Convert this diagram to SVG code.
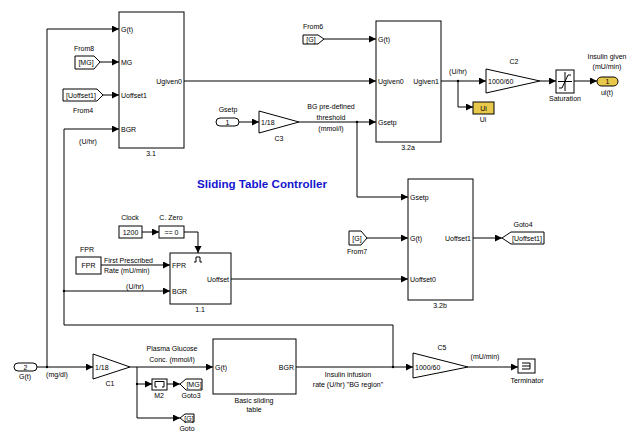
<svg xmlns="http://www.w3.org/2000/svg" width="635" height="432" viewBox="0 0 635 432">
<defs>
<marker id="ar" markerUnits="userSpaceOnUse" markerWidth="8" markerHeight="8" refX="7" refY="3.5" orient="auto">
<path d="M0,0 L7,3.5 L0,7 Z" fill="#000"/>
</marker>
</defs>
<style>
text{font-family:"Liberation Sans",Arial,sans-serif;font-size:7px;fill:#000}
.c{text-anchor:middle}
.r{text-anchor:end}
.blk{fill:#fff;stroke:#000;stroke-width:1}
.w{fill:none;stroke:#000;stroke-width:1}
.a{fill:none;stroke:#000;stroke-width:1;marker-end:url(#ar)}
.y{fill:#e8c84a;stroke:#000;stroke-width:1}
.title{font-size:11.6px;font-weight:bold;fill:#1515d0}
</style>
<rect width="635" height="432" fill="#fff"/>

<g id="connectors">
<path class="a" d="M37,367 H93"/>
<path class="a" d="M47,367 V29 H119"/>
<path class="a" d="M130,367 H213"/>
<path class="a" d="M137,367 V384 H152"/>
<path class="a" d="M137,384 V418 H180"/>
<path class="a" d="M167,384 H180"/>
<path class="a" d="M296,367 H413"/>
<path class="a" d="M393,367 V325 H64 V129 H119"/>
<path class="a" d="M64,291 H170"/>
<path class="a" d="M468,367 H518"/>
<path class="a" d="M100,62 H119"/>
<path class="a" d="M103,95 H119"/>
<path class="a" d="M184,81 H376"/>
<path class="a" d="M324,39 H376"/>
<path class="a" d="M239,122 H259"/>
<path class="a" d="M299,122 H376"/>
<path class="a" d="M357,122 V197 H408"/>
<path class="a" d="M441,81 H486"/>
<path class="a" d="M458,81 V107 H473"/>
<path class="a" d="M540,81 H556"/>
<path class="a" d="M574,81 H597"/>
<path class="a" d="M142,232 H159"/>
<path class="a" d="M184,232 H198 V253"/>
<path class="a" d="M101,265 H170"/>
<path class="a" d="M231,279 H408"/>
<path class="a" d="M367,238 H408"/>
<path class="a" d="M473,238 H502"/>
<g fill="#000">
<circle cx="47" cy="367" r="1.2"/><circle cx="137" cy="384" r="1.2"/><circle cx="357" cy="122" r="1.2"/>
<circle cx="458" cy="81" r="1.2"/><circle cx="393" cy="367" r="1.2"/><circle cx="64" cy="291" r="1.2"/>
</g>
<text class="c" x="57" y="377">(mg/dl)</text>
<text class="c" x="172" y="351">Plasma Glucose</text>
<text class="c" x="172" y="362">Conc. (mmol/l)</text>
<text class="c" x="348" y="377">Insulin infusion</text>
<text class="c" x="348" y="387">rate (U/hr) "BG region"</text>
<text class="c" x="485" y="359">(mU/min)</text>
<text class="c" x="88" y="144">(U/hr)</text>
<text class="c" x="331" y="109">BG pre-defined</text>
<text class="c" x="331" y="120">threshold</text>
<text class="c" x="331" y="131">(mmol/l)</text>
<text class="c" x="458" y="74">(U/hr)</text>
<text x="104" y="263">First Prescribed</text>
<text x="104" y="273">Rate (mU/min)</text>
<text class="c" x="135" y="289">(U/hr)</text>
</g>

<text class="title" x="197" y="188">Sliding Table Controller</text>

<g id="b31">
<rect class="blk" x="119" y="12" width="65" height="136"/>
<text x="121" y="31.5">G(t)</text>
<text x="121" y="64.5">MG</text>
<text x="121" y="97.5">Uoffset1</text>
<text x="121" y="131.5">BGR</text>
<text class="r" x="182" y="83.5">Ugiven0</text>
<text class="c" x="151" y="156">3.1</text>
</g>

<g id="from8">
<path class="blk" d="M75,56 H94 L100,62 L94,69 H75 Z"/>
<text class="c" x="86" y="64.5">[MG]</text>
<text class="c" x="84" y="51">From8</text>
</g>
<g id="from4">
<path class="blk" d="M63,89 H97 L103,95 L97,101 H63 Z"/>
<text class="c" x="81" y="97.5">[Uoffset1]</text>
<text class="c" x="83" y="113">From4</text>
</g>

<g id="from6">
<path class="blk" d="M303,35 H318 L324,39 L318,44 H303 Z"/>
<text class="c" x="311" y="42">[G]</text>
<text class="c" x="313" y="29">From6</text>
</g>

<g id="gsetp">
<rect class="blk" x="216" y="118" width="23" height="8" rx="4"/>
<text class="c" x="227.5" y="124.5">1</text>
<text class="c" x="228" y="112">Gsetp</text>
</g>
<g id="c3">
<path class="blk" d="M259,111 L299,122 L259,133 Z"/>
<text x="261" y="124.5">1/18</text>
<text class="c" x="279" y="141">C3</text>
</g>

<g id="b32a">
<rect class="blk" x="376" y="21" width="65" height="121"/>
<text x="378" y="41.5">G(t)</text>
<text x="378" y="83.5">Ugiven0</text>
<text x="378" y="124.5">Gsetp</text>
<text class="r" x="439" y="83.5">Ugiven1</text>
<text class="c" x="408" y="150">3.2a</text>
</g>

<g id="ui">
<rect class="y" x="473" y="102" width="21" height="12"/>
<text class="c" x="483.5" y="110.5">Ui</text>
<text class="c" x="483" y="122">Ui</text>
</g>

<g id="c2">
<path class="blk" d="M486,69 L540,81 L486,93 Z"/>
<text x="488" y="83.5">1000/60</text>
<text class="c" x="514" y="64">C2</text>
</g>

<g id="saturation">
<rect class="blk" x="556" y="70" width="18" height="23"/>
<path class="w" d="M558,81.5 H572 M565,72 V91 M559,88 H562 L568,75 H571" stroke-width="0.8"/>
<text class="c" x="565" y="101">Saturation</text>
</g>

<g id="ult">
<rect class="y" x="597" y="77" width="21" height="9" rx="4.5"/>
<text class="c" x="607.5" y="84">1</text>
<text class="c" x="607" y="95">ul(t)</text>
<text class="c" x="607" y="59">Insulin given</text>
<text class="c" x="607" y="69">(mU/min)</text>
</g>

<g id="clock">
<rect class="blk" x="119" y="226" width="23" height="12"/>
<text class="c" x="130.5" y="234.5">1200</text>
<text class="c" x="130" y="220">Clock</text>
</g>
<g id="czero">
<rect class="blk" x="159" y="226" width="25" height="12"/>
<text class="c" x="171.5" y="234.5">== 0</text>
<text class="c" x="171" y="220">C. Zero</text>
</g>

<g id="fpr">
<rect class="blk" x="76" y="257" width="25" height="17"/>
<text class="c" x="88.5" y="268">FPR</text>
<text class="c" x="87" y="252">FPR</text>
</g>

<g id="b11">
<rect class="blk" x="170" y="253" width="61" height="51" stroke-width="2"/>
<path class="w" d="M194,262 H196 V257 H200 V262 H202" stroke-width="0.9"/>
<text x="172" y="267.5">FPR</text>
<text x="172" y="293.5">BGR</text>
<text class="r" x="229" y="281.5">Uoffset</text>
<text class="c" x="200" y="312">1.1</text>
</g>

<g id="b32b">
<rect class="blk" x="408" y="179" width="65" height="121"/>
<text x="410" y="199.5">Gsetp</text>
<text x="410" y="240.5">G(t)</text>
<text x="410" y="282">Uoffset0</text>
<text class="r" x="471" y="240.5">Uoffset1</text>
<text class="c" x="440" y="308">3.2b</text>
</g>

<g id="from7">
<path class="blk" d="M349,231 H361 L367,238 L361,245 H349 Z"/>
<text class="c" x="357" y="240.5">[G]</text>
<text class="c" x="357" y="254">From7</text>
</g>

<g id="goto4">
<path class="blk" d="M502,238 L511,232 H544 V244 H511 Z"/>
<text class="c" x="527" y="240.5">[Uoffset1]</text>
<text class="c" x="523" y="227">Goto4</text>
</g>

<g id="gt_in">
<rect class="blk" x="14" y="363" width="23" height="8" rx="4"/>
<text class="c" x="25.5" y="369.5">2</text>
<text class="c" x="25" y="379">G(t)</text>
</g>

<g id="c1">
<path class="blk" d="M93,354 L130,367 L93,379 Z"/>
<text x="95" y="369.5">1/18</text>
<text class="c" x="110" y="386">C1</text>
</g>

<g id="m2">
<rect class="blk" x="152" y="379" width="15" height="11"/>
<path class="w" d="M155,387 V381.5 H164 V387 M157,387 H155 M162,387 H164" stroke-width="0.9"/>
<text class="c" x="159" y="398">M2</text>
</g>

<g id="goto3">
<path class="blk" d="M180,384 L186,379 H202 V390 H186 Z"/>
<text class="c" x="194" y="386.5">[MG]</text>
<text class="c" x="191" y="398">Goto3</text>
</g>

<g id="goto">
<path class="blk" d="M180,418 L185,414 H194 V422 H185 Z"/>
<text class="c" x="189" y="420.5">[G]</text>
<text class="c" x="187" y="431">Goto</text>
</g>

<g id="basic">
<rect class="blk" x="213" y="339" width="83" height="55"/>
<text x="215" y="369.5">G(t)</text>
<text class="r" x="294" y="369.5">BGR</text>
<text class="c" x="254" y="403">Basic sliding</text>
<text class="c" x="254" y="412">table</text>
</g>

<g id="c5">
<path class="blk" d="M413,353 L468,367 L413,378 Z"/>
<text x="415" y="369.5">1000/60</text>
<text class="c" x="442" y="350">C5</text>
</g>

<g id="terminator">
<rect class="blk" x="518" y="359" width="17" height="14"/>
<path class="w" d="M522,363 H530 V369 H522 M522,366 H530" stroke-width="0.9"/>
<text class="c" x="527" y="383">Terminator</text>
</g>
</svg>
